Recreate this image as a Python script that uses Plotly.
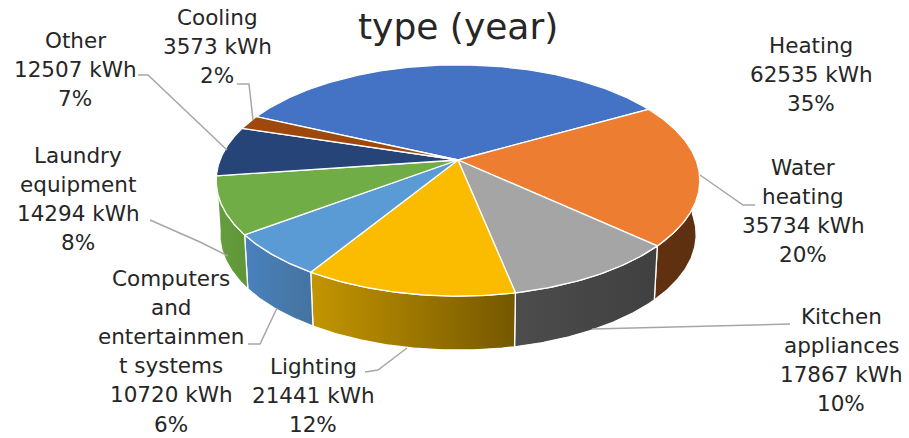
import numpy as np
import plotly.graph_objects as go

# ---- data ----
categories = ["Heating", "Water heating", "Kitchen appliances", "Lighting",
              "Computers and entertainment systems", "Laundry equipment", "Other", "Cooling"]
values_kwh = [62535, 35734, 17867, 21441, 10720, 14294, 12507, 3573]
percent_labels = ["35%", "20%", "10%", "12%", "6%", "8%", "7%", "2%"]
wrapped_names = [["Heating"], ["Water", "heating"], ["Kitchen", "appliances"], ["Lighting"],
                 ["Computers", "and", "entertainmen", "t systems"], ["Laundry", "equipment"],
                 ["Other"], ["Cooling"]]
top_colors = ["#4472C4", "#ED7D31", "#A5A5A5", "#FBBC00", "#5B9BD5", "#70AD47", "#264478", "#9E480E"]
side_left = ["#2f4f88", "#62300f", "#4c4c4c", "#c49500", "#4a82bd", "#659f3c", "#1a2f54", "#6e320a"]
side_right = ["#2f4f88", "#5c3012", "#404040", "#755800", "#44739f", "#5f9638", "#1a2f54", "#6e320a"]
title_text = "type (year)"

# ---- layout constants (pixels of the 909x438 page) ----
W, H = 909, 438
CX, CY = 458, 160
RX, RY, K = 238, 112, 0.177
START_DEG = -65.5
DEPTH, BOTTOM_SCALE = 54, 0.985
FONT = "DejaVu Sans"
FS = 21.5
TXT = "#262626"
label_x = [811, 803, 841, 313, 171, 78, 75, 217]
label_y0 = [45, 167, 316, 366.5, 278, 155, 40, 17]
LINE = 29.2
leaders = [
    None,
    [(700, 175), (743, 205), (755, 205)],
    [(790, 324), (592, 329)],
    [(365, 372), (378, 370), (407, 348)],
    [(248, 344), (260, 344), (277, 308)],
    [(150, 220), (200, 242), (228, 256)],
    [(138, 75), (148, 75), (227, 150)],
    [(237, 84), (249, 84), (253, 120)],
]


def rim(theta_deg):
    t = np.radians(theta_deg)
    X, Y = np.sin(t), -np.cos(t)
    w = 1 - K * Y
    return RX * X / w, RY * Y / w


total = sum(values_kwh)
edges = START_DEG + np.concatenate([[0], np.cumsum(values_kwh)]) / total * 360
fig = go.Figure()


def arc(a, b):
    n = max(3, int(abs(b - a) * 2))
    return np.linspace(a, b, n)


# sides first: only slices whose middle lies on the viewer's half of the rim
for i in range(len(values_kwh)):
    mid = (edges[i] + edges[i + 1]) / 2
    if not 90 < mid < 270:
        continue
    th = arc(max(edges[i], 90), edges[i + 1])
    dx, dy = rim(th)
    xs = np.concatenate([CX + dx, (CX + BOTTOM_SCALE * dx)[::-1]])
    ys = np.concatenate([CY + dy, (CY + dy + DEPTH)[::-1]])
    fig.add_trace(go.Scatter(
        x=np.append(xs, xs[0]), y=np.append(ys, ys[0]), mode="lines", fill="toself",
        line=dict(color="white", width=1.3), hoverinfo="skip", showlegend=False,
        fillgradient=dict(type="horizontal",
                          colorscale=[[0, side_left[i]], [1, side_right[i]]]),
    ))

# top faces
for i in range(len(values_kwh)):
    th = arc(edges[i], edges[i + 1])
    dx, dy = rim(th)
    xs = np.concatenate([[CX], CX + dx, [CX]])
    ys = np.concatenate([[CY], CY + dy, [CY]])
    fig.add_trace(go.Scatter(
        x=xs, y=ys, mode="lines", fill="toself", fillcolor=top_colors[i],
        line=dict(color="white", width=1.3), hoverinfo="skip", showlegend=False,
        name=categories[i],
    ))

# leader lines
shapes = []
for pts in leaders:
    if pts is None:
        continue
    path = "M " + " L ".join(f"{x},{y}" for x, y in pts)
    shapes.append(dict(type="path", path=path, xref="x", yref="y",
                       line=dict(color="#A6A6A6", width=1.5), layer="above"))

# labels, one annotation per line for exact line spacing
annotations = [dict(x=458, y=26, xref="x", yref="y", text=title_text, showarrow=False,
                    font=dict(family=FONT, size=36, color=TXT))]
for i in range(len(values_kwh)):
    lines = wrapped_names[i] + [f"{values_kwh[i]} kWh", percent_labels[i]]
    for j, s in enumerate(lines):
        annotations.append(dict(x=label_x[i], y=label_y0[i] + j * LINE, xref="x", yref="y",
                                text=s, showarrow=False, xanchor="center", yanchor="middle",
                                font=dict(family=FONT, size=FS, color=TXT)))

fig.update_layout(
    width=W, height=H, margin=dict(l=0, r=0, t=0, b=0),
    paper_bgcolor="white", plot_bgcolor="white", showlegend=False,
    xaxis=dict(range=[0, W], visible=False, fixedrange=True),
    yaxis=dict(range=[H, 0], visible=False, fixedrange=True),
    shapes=shapes, annotations=annotations,
)
fig.write_html("out.html", config={"displayModeBar": False},
               post_script="document.body.style.margin='0';document.documentElement.style.overflow='hidden';")
